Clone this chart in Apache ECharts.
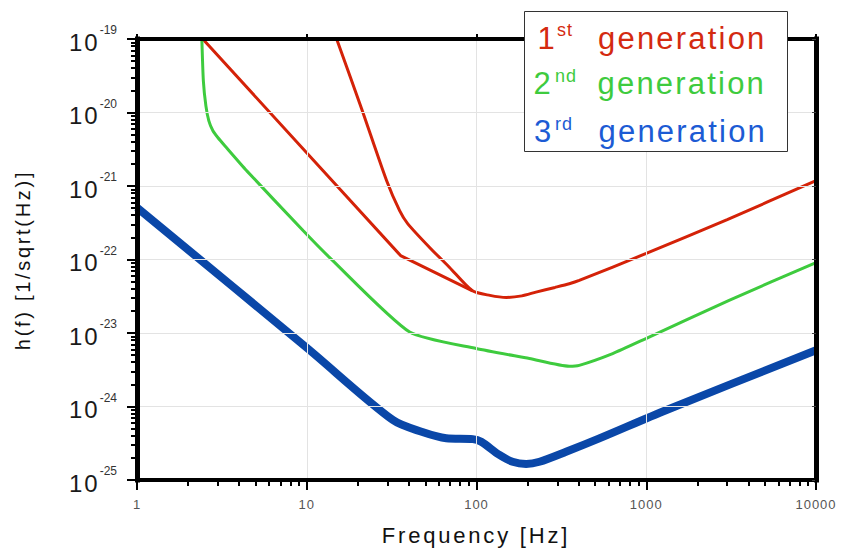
<!DOCTYPE html>
<html>
<head>
<meta charset="utf-8">
<script src="https://cdn.jsdelivr.net/npm/echarts@6/dist/echarts.min.js"></script>
<style>
html, body { margin: 0; padding: 0; background: #fff; }
#c { width: 842px; height: 549px; }
#c text[style*="22px"] { letter-spacing: 2.8px; }
#c text[style*="20px"] { letter-spacing: 2.7px; }
#c text[style*="31px"] { letter-spacing: 2.2px; }
#c text[style*="24px"] { letter-spacing: 2px; }
#c text[style*="18px"] { letter-spacing: 1px; }
#c text[style*="13px"] { letter-spacing: 1px; }
</style>
</head>
<body>
<div id="c"></div>
<script>
// ---- data (frequency in Hz, strain h(f) in 1/sqrt(Hz)) ----
// 1st generation, branch a (straight low-frequency wall up to the merge point)
const freqRed1 = [2.44, 35.7, 94.7];
const hRed1    = [1e-19, 1.13e-22, 3.75e-23];

// 1st generation, branch b (steep wall, then the common bucket)
const freqRed2 = [15.0, 21.07, 29.56, 35.24, 39.3, 52.9, 69.4, 94.7, 120, 150, 185, 224, 290, 352, 403, 1000, 3000, 10000];
const hRed2    = [1e-19, 1.12e-20, 1.18e-21, 4.62e-22, 3.08e-22, 1.46e-22, 7.8e-23, 3.75e-23, 3.25e-23, 3.05e-23, 3.2e-23, 3.6e-23, 4.17e-23, 4.68e-23, 5.19e-23, 1.21e-22, 3.5e-22, 1.18e-21];

const freqGreen = [2.41, 2.46, 2.546, 2.65, 2.80, 3.00, 3.29, 4.42, 9.51, 13.6, 40.4, 99.6, 205, 352, 403, 634, 995, 3077, 10000];
const hGreen    = [1e-19, 2.69e-20, 1.23e-20, 7.7e-21, 5.64e-21, 4.53e-21, 3.53e-21, 1.62e-21, 2.48e-22, 1.07e-22, 1.03e-23, 6.14e-24, 4.49e-24, 3.53e-24, 3.63e-24, 5.25e-24, 8.4e-24, 2.78e-23, 9.1e-23];

const freqBlue = [1, 10, 32.2, 48, 66.4, 95.1, 106.6, 136.5, 163, 196, 235, 337, 529, 1306, 10000];
const hBlue    = [5.08e-22, 6.3e-24, 6.53e-25, 4.5e-25, 3.7e-25, 3.6e-25, 3.31e-25, 2.19e-25, 1.77e-25, 1.65e-25, 1.77e-25, 2.42e-25, 3.68e-25, 8.9e-25, 5.82e-24];

// ---- tick labels ----
const xTickLabels = ['1', '10', '100', '1000', '10000'];
const yTickExponents = ['-25', '-24', '-23', '-22', '-21', '-20', '-19'];
const minorMultipliers = [2, 3, 4, 5, 6, 7, 8, 9];

// ---- legend texts ----
const legendNums = ['1', '2', '3'];
const legendSups = ['st', 'nd', 'rd'];
const legendWord = 'generation';

// ---- styles ----
const FONT = '"Liberation Sans", Arial, Helvetica, sans-serif';
const RED = '#d42208';
const GREEN = '#3ecb3e';
const BLUE = '#0a47a8';
const LEG_COLORS = ['#d42a10', '#3ecb3e', '#1c5bd4'];

function pairs(fs, hs) {
  return fs.map((f, i) => [f, Math.log10(hs[i])]);
}

const minorX = [];
for (let d = 0; d < 4; d++) minorMultipliers.forEach(k => minorX.push(d + Math.log10(k)));
const minorY = [];
for (let d = -25; d < -19; d++) minorMultipliers.forEach(k => minorY.push(d + Math.log10(k)));

const chart = echarts.init(document.getElementById('c'), null, { renderer: 'svg', width: 842, height: 549 });

const legendRowY = [38.5, 83, 131];
const legendNumX = [537.5, 533.5, 534];
const legendSupX = [557, 555, 555];
const legendSupY = [30, 75.5, 124];
const legendWordX = [598, 597.5, 598.5];

const graphics = [
  { type: 'rect', z: 100, shape: { x: 524.5, y: 11.5, width: 263, height: 140 },
    style: { fill: '#fff', stroke: '#333', lineWidth: 1 } },
  { type: 'text', z: 100, x: 476, y: 535.5,
    style: { text: 'Frequency [Hz]', font: '22px ' + FONT, fill: '#111', align: 'center', verticalAlign: 'middle', textAlign: 'center', textVerticalAlign: 'middle' } },
  { type: 'text', z: 100, x: 23, y: 260, rotation: Math.PI / 2,
    style: { text: 'h(f) [1/sqrt(Hz)]', font: '20px ' + FONT, fill: '#111', align: 'center', verticalAlign: 'middle', textAlign: 'center', textVerticalAlign: 'middle' } }
];
for (let i = 0; i < 3; i++) {
  graphics.push({ type: 'text', z: 101, x: legendNumX[i], y: legendRowY[i],
    style: { text: legendNums[i], font: '31px ' + FONT, fill: LEG_COLORS[i], align: 'left', verticalAlign: 'middle', textAlign: 'left', textVerticalAlign: 'middle' } });
  graphics.push({ type: 'text', z: 101, x: legendSupX[i], y: legendSupY[i],
    style: { text: legendSups[i], font: '18px ' + FONT, fill: LEG_COLORS[i], align: 'left', verticalAlign: 'middle', textAlign: 'left', textVerticalAlign: 'middle' } });
  graphics.push({ type: 'text', z: 101, x: legendWordX[i], y: legendRowY[i],
    style: { text: legendWord, font: '31px ' + FONT, fill: LEG_COLORS[i], align: 'left', verticalAlign: 'middle', textAlign: 'left', textVerticalAlign: 'middle' } });
}

function frameLine(w) { return { show: true, onZero: false, lineStyle: { color: '#000', width: w, cap: 'square' } }; }
function grid1() { return { show: true, showMinLine: false, showMaxLine: false, lineStyle: { color: '#e3e3e3', width: 1 } }; }

const option = {
  animation: false,
  backgroundColor: '#fff',
  grid: { left: 137, right: 26, top: 39, bottom: 69, containLabel: false },
  xAxis: [
    { type: 'log', logBase: 10, min: 1, max: 10000, position: 'bottom', z: 5,
      axisLine: frameLine(4),
      axisTick: { show: true, inside: false, length: 10, lineStyle: { color: '#000', width: 2 } },
      axisLabel: { show: true, color: '#555', fontSize: 13, fontFamily: FONT, margin: 18,
        formatter: v => xTickLabels[Math.round(Math.log10(v))] },
      splitLine: grid1() },
    { type: 'value', min: 0, max: 4, position: 'bottom',
      axisLine: { show: false },
      axisTick: { show: true, inside: false, length: 6, customValues: minorX, lineStyle: { color: '#000', width: 2 } },
      axisLabel: { show: false }, splitLine: { show: false } },
    { type: 'log', logBase: 10, min: 1, max: 10000, position: 'top', z: 5,
      axisLine: frameLine(4),
      axisTick: { show: true, inside: false, length: 5, lineStyle: { color: '#000', width: 2 } },
      axisLabel: { show: false }, splitLine: { show: false } }
  ],
  yAxis: [
    { type: 'value', min: -25, max: -19, interval: 1, position: 'left', z: 5,
      axisLine: frameLine(5),
      axisTick: { show: true, inside: false, length: 10, lineStyle: { color: '#000', width: 2 } },
      axisLabel: { show: true, margin: 20,
        formatter: v => '{b|10}{s|' + yTickExponents[Math.round(v) + 25] + '}',
        rich: {
          b: { fontSize: 24, fontFamily: FONT, color: '#1a1a1a', padding: [6, 0, 0, 0] },
          s: { fontSize: 12, fontFamily: FONT, color: '#333', verticalAlign: 'top' }
        } },
      splitLine: grid1() },
    { type: 'value', min: -25, max: -19, position: 'left',
      axisLine: { show: false },
      axisTick: { show: true, inside: false, length: 6, customValues: minorY, lineStyle: { color: '#000', width: 2 } },
      axisLabel: { show: false }, splitLine: { show: false } },
    { type: 'value', min: -25, max: -19, interval: 1, position: 'right', z: 5,
      axisLine: frameLine(5),
      axisTick: { show: true, inside: true, length: 4, lineStyle: { color: '#444', width: 1 } },
      axisLabel: { show: false }, splitLine: { show: false } }
  ],
  series: [
    { type: 'line', name: '1st generation', xAxisIndex: 0, yAxisIndex: 0, data: pairs(freqRed1, hRed1),
      symbol: 'none', smooth: false, lineStyle: { color: RED, width: 3 }, itemStyle: { color: RED }, z: 3 },
    { type: 'line', name: '1st generation (b)', xAxisIndex: 0, yAxisIndex: 0, data: pairs(freqRed2, hRed2),
      symbol: 'none', smooth: 0.25, lineStyle: { color: RED, width: 3 }, itemStyle: { color: RED }, z: 3 },
    { type: 'line', name: '2nd generation', xAxisIndex: 0, yAxisIndex: 0, data: pairs(freqGreen, hGreen),
      symbol: 'none', smooth: 0.2, lineStyle: { color: GREEN, width: 3 }, itemStyle: { color: GREEN }, z: 3 },
    { type: 'line', name: '3rd generation', xAxisIndex: 0, yAxisIndex: 0, data: pairs(freqBlue, hBlue),
      symbol: 'none', smooth: 0.3, lineStyle: { color: BLUE, width: 8 }, itemStyle: { color: BLUE }, z: 4 }
  ],
  graphic: graphics
};

chart.setOption(option);
</script>
</body>
</html>
